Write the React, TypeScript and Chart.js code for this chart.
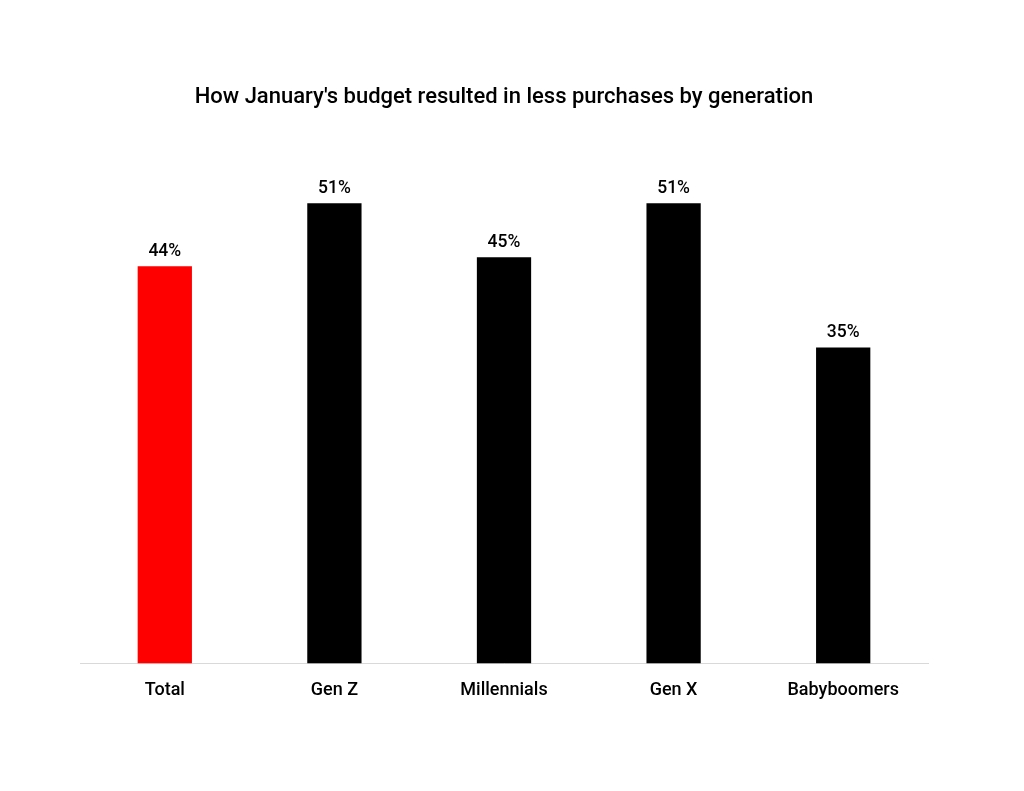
import React, { useEffect, useRef } from "react";
import { Chart, registerables } from "chart.js";

Chart.register(...registerables);

const categories = ["Total", "Gen Z", "Millennials", "Gen X", "Babyboomers"];
const values = [44, 51, 45, 51, 35];
const barColors = ["#ff0000", "#000000", "#000000", "#000000", "#000000"];
const titleText = "How January's budget resulted in less purchases by generation";
const FONT = "Roboto, 'DejaVu Sans', sans-serif";

const valueLabels = {
  id: "valueLabels",
  afterDatasetsDraw(chart: any) {
    const ctx = chart.ctx;
    const meta = chart.getDatasetMeta(0);
    ctx.save();
    ctx.fillStyle = "#000000";
    ctx.font = `500 17.5px ${FONT}`;
    ctx.textAlign = "center";
    ctx.textBaseline = "middle";
    meta.data.forEach((bar: any, i: number) => {
      ctx.fillText(values[i] + "%", bar.x, bar.y - 15);
    });
    ctx.restore();
  },
};

export default function App() {
  const ref = useRef<HTMLCanvasElement>(null);
  useEffect(() => {
    const chart = new Chart(ref.current!, {
      type: "bar",
      data: {
        labels: categories,
        datasets: [
          {
            data: values,
            backgroundColor: barColors,
            barPercentage: 0.64,
            categoryPercentage: 0.5,
          },
        ],
      },
      options: {
        responsive: false,
        animation: false,
        layout: { padding: { top: 84, left: 80, right: 96, bottom: 74 } },
        plugins: {
          legend: { display: false },
          tooltip: { enabled: false },
          title: {
            display: true,
            text: titleText,
            color: "#000000",
            font: { family: FONT, size: 22, weight: 500 as any, lineHeight: 1.2 },
            padding: { top: 0, bottom: 11.6 },
          },
        },
        scales: {
          x: {
            grid: { display: false, drawTicks: false },
            border: { display: true, color: "#d9d9d9", width: 1 },
            ticks: {
              color: "#000000",
              padding: 16,
              font: { family: FONT, size: 18, weight: 500 as any, lineHeight: 1.2 },
            },
          },
          y: {
            display: false,
            min: 0,
            max: 60,
          },
        },
      },
      plugins: [valueLabels],
    });
    return () => chart.destroy();
  }, []);
  return (
    <div style={{ position: "fixed", left: 0, top: 0, width: 1024, height: 791, background: "#ffffff" }}>
      <canvas ref={ref} width={1024} height={791} style={{ width: 1024, height: 791 }} />
    </div>
  );
}
